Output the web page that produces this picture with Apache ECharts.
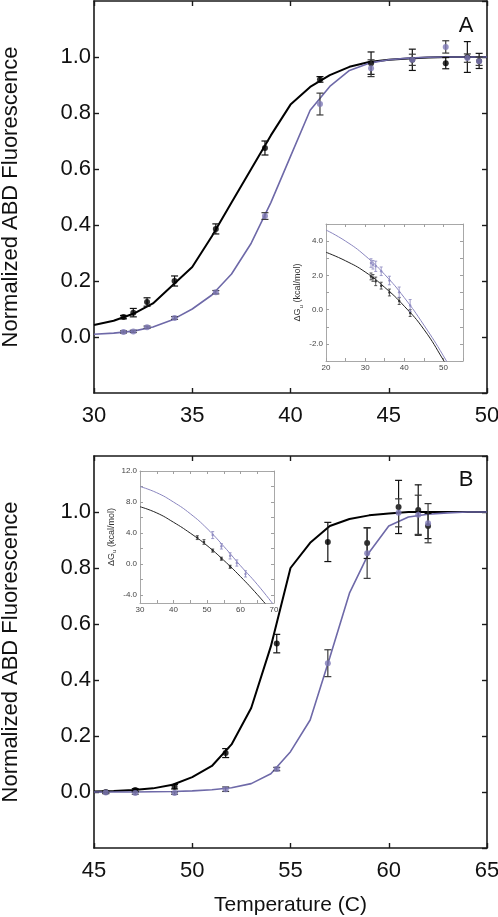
<!DOCTYPE html>
<html><head><meta charset="utf-8">
<script src="https://cdn.jsdelivr.net/npm/echarts@6/dist/echarts.min.js"></script>
<style>html,body{margin:0;padding:0;background:#fff}#c{width:498px;height:917px}</style>
</head><body><div id="c"></div>
<script>
// ---------- Panel A data ----------
const A_T = [31.5, 32.0, 32.7, 34.1, 36.2, 38.7, 41.5, 44.1, 46.2, 47.9, 49.0, 49.6];
const A_black = [0.071, 0.087, 0.125, 0.200, 0.386, 0.675, 0.920, 0.978, 0.990, 0.978, 1.000, 0.986];
const A_blackErr = [0.006, 0.015, 0.015, 0.018, 0.018, 0.025, 0.010, 0.040, 0.038, 0.020, 0.055, 0.027];
const A_purple = [0.018, 0.020, 0.035, 0.068, 0.160, 0.432, 0.832, 0.960, 0.990, 1.036, 0.996, 0.985];
const A_purpleErr = [0.004, 0.004, 0.004, 0.005, 0.006, 0.012, 0.039, 0.030, 0.020, 0.022, 0.015, 0.015];
const A_fitT = [30,31,32,33,34,35,36,37,38,39,40,41,42,43,44,45,46,47,48,49,50];
const A_blackFit = [0.043,0.058,0.083,0.120,0.185,0.250,0.360,0.480,0.600,0.720,0.830,0.893,0.935,0.965,0.982,0.990,0.995,0.998,1.0,1.0,1.0];
const A_purpleFit = [0.010,0.014,0.021,0.036,0.062,0.100,0.150,0.225,0.335,0.480,0.645,0.810,0.895,0.952,0.978,0.990,0.996,0.999,1.0,1.0,1.0];

// ---------- Panel B data ----------
const B_T = [45.6, 47.1, 49.1, 51.7, 54.3, 56.9, 58.9, 60.5, 61.5, 62.0];
const B_black = [0.000, 0.007, 0.019, 0.139, 0.530, 0.893, 0.889, 1.018, 1.007, 0.950];
const B_blackErr = [0.004, 0.005, 0.008, 0.016, 0.033, 0.070, 0.055, 0.095, 0.090, 0.045];
const B_purple = [-0.002, -0.004, -0.004, 0.010, 0.082, 0.460, 0.853, 0.997, 0.990, 0.960];
const B_purpleErr = [0.004, 0.004, 0.004, 0.008, 0.006, 0.048, 0.090, 0.050, 0.070, 0.070];
const B_fitT = [45,46,47,48,49,50,51,52,53,54,55,56,57,58,59,60,61,62,63,64,65];
const B_blackFit = [0.002,0.004,0.007,0.013,0.026,0.053,0.093,0.170,0.300,0.520,0.800,0.890,0.950,0.975,0.988,0.995,1.0,1.0,1.0,1.0,1.0];
const B_purpleFit = [0.0,0.0,0.0,0.001,0.002,0.004,0.008,0.015,0.030,0.065,0.144,0.257,0.480,0.710,0.855,0.950,0.982,0.992,0.997,1.0,1.0];

// ---------- Inset A (ΔGu) ----------
const IA_T = [31.5, 32.0, 32.7, 34.1, 36.2, 38.7, 41.5];
const IA_black = [1.94, 1.85, 1.65, 1.40, 1.00, 0.50, -0.20];
const IA_blackErr = [0.20, 0.20, 0.25, 0.20, 0.20, 0.20, 0.20];
const IA_purple = [2.72, 2.62, 2.53, 2.24, 1.70, 1.02, 0.24];
const IA_purpleErr = [0.25, 0.25, 0.30, 0.25, 0.25, 0.30, 0.35];
const IA_fitT = [20, 25, 30, 35, 40, 45, 50, 55];
const IA_blackFit = [3.35, 2.85, 2.20, 1.30, 0.20, -1.15, -2.95, -4.90];
const IA_purpleFit = [4.65, 4.00, 3.15, 2.05, 0.70, -0.90, -2.70, -4.70];

// ---------- Inset B (ΔGu) ----------
const IB_blackT = [47.1, 49.1, 51.7, 54.3, 56.9];
const IB_black = [3.42, 2.86, 1.75, 0.70, -0.34];
const IB_blackErr = [0.25, 0.30, 0.20, 0.20, 0.20];
const IB_purpleT = [51.7, 54.3, 56.9, 58.9, 61.5];
const IB_purple = [3.75, 2.30, 1.07, 0.15, -1.25];
const IB_purpleErr = [0.45, 0.35, 0.40, 0.40, 0.40];
const IB_fitT = [30, 35, 40, 45, 50, 55, 60, 65, 70];
const IB_blackFit = [7.4, 6.6, 5.4, 4.0, 2.4, 0.5, -1.6, -3.9, -6.4];
const IB_purpleFit = [10.0, 9.2, 8.0, 6.5, 4.6, 2.3, -0.2, -2.6, -5.3];

const IB_yLabels = [-4, 0, 4, 8, 12];
const IB_yTicks = [-4, -2, 0, 2, 4, 6, 8, 10, 12];

// ---------- helpers ----------
const FONT = '"Liberation Sans", Arial, Helvetica, sans-serif';
const BLACK = '#000000';
const PURPLE_LINE = '#6e69a8';
const PURPLE_PT = '#7e79b6';
const zip2 = (a, b) => a.map((v, i) => [v, b[i]]);
const zip3 = (a, b, c) => a.map((v, i) => [v, b[i], c[i]]);
const fmt1 = v => (Math.abs(v) < 1e-9 ? '0.0' : v.toFixed(1));

function errRender(cap, color, width) {
  return function (params, api) {
    const x = api.value(0), y = api.value(1), e = api.value(2);
    const hi = api.coord([x, y + e]), lo = api.coord([x, y - e]);
    const st = { stroke: color, lineWidth: width };
    return { type: 'group', children: [
      { type: 'line', shape: { x1: hi[0], y1: hi[1], x2: lo[0], y2: lo[1] }, style: st },
      { type: 'line', shape: { x1: hi[0] - cap, y1: hi[1], x2: hi[0] + cap, y2: hi[1] }, style: st },
      { type: 'line', shape: { x1: lo[0] - cap, y1: lo[1], x2: lo[0] + cap, y2: lo[1] }, style: st }
    ]};
  };
}

const mainLine = { show: true, onZero: false, lineStyle: { color: '#1a1a1a', width: 1.6 } };
const mainTick = { show: true, inside: true, length: 5, lineStyle: { color: '#1a1a1a', width: 1.4 } };
const insLine = { show: true, onZero: false, lineStyle: { color: '#a8a8a8', width: 1 } };
const insTick = { show: true, inside: true, length: 3, lineStyle: { color: '#a0a0a0', width: 1 } };
const mainLbl = { fontSize: 22, color: '#111', fontFamily: FONT };
const insLbl = { fontSize: 8, color: '#444', fontFamily: FONT, margin: 3 };
const noSplit = { show: false };

function mainX(gi, min, max, name) {
  const base = { type: 'value', gridIndex: gi, min: min, max: max, interval: 5,
    axisLine: mainLine, axisTick: mainTick, splitLine: noSplit };
  const bottom = Object.assign({}, base, { position: 'bottom',
    axisLabel: Object.assign({ margin: 12 }, mainLbl) });
  if (name) {
    bottom.name = name; bottom.nameLocation = 'middle'; bottom.nameGap = 47;
    bottom.nameTextStyle = { fontSize: 21, color: '#111', fontFamily: FONT };
  }
  const top = Object.assign({}, base, { position: 'top', axisLabel: { show: false } });
  return [bottom, top];
}
function mainY(gi) {
  const base = { type: 'value', gridIndex: gi, min: -0.2, max: 1.2, interval: 0.2,
    axisLine: mainLine, axisTick: mainTick, splitLine: noSplit };
  const left = Object.assign({}, base, { position: 'left',
    axisLabel: Object.assign({ margin: 3, showMinLabel: false, showMaxLabel: false, formatter: fmt1 }, mainLbl),
    name: 'Normalized ABD Fluorescence', nameLocation: 'middle', nameRotate: 90, nameGap: 72,
    nameTextStyle: { fontSize: 22, color: '#111', fontFamily: FONT } });
  const right = Object.assign({}, base, { position: 'right', axisLabel: { show: false } });
  return [left, right];
}
const dgName = '{a|ΔG}{s|u}{a| (kcal/mol)}';
const dgStyle = { fontFamily: FONT, rich: {
  a: { fontSize: 9, color: '#333', lineHeight: 12, fontFamily: FONT },
  s: { fontSize: 6, color: '#333', lineHeight: 12, verticalAlign: 'bottom', fontFamily: FONT } } };

function insX(gi, min, max) {
  const base = { type: 'value', gridIndex: gi, min: min, max: max, interval: 5, z: 8,
    axisLine: insLine, axisTick: insTick, splitLine: noSplit };
  return [
    Object.assign({}, base, { position: 'bottom',
      axisLabel: Object.assign({ formatter: v => (v % 10 === 0 ? String(v) : '') }, insLbl) }),
    Object.assign({}, base, { position: 'top', axisLabel: { show: false } })
  ];
}

const xAxes = [].concat(
  mainX(0, 30, 50, null),
  mainX(1, 45, 65, 'Temperature (C)'),
  insX(2, 20, 55),
  insX(3, 30, 70)
);
const yAxes = [].concat(
  mainY(0), mainY(1),
  [
    { type: 'value', gridIndex: 2, min: -3, max: 5, interval: 1, position: 'left', z: 8,
      axisLine: insLine, axisTick: insTick, splitLine: noSplit,
      axisLabel: Object.assign({ formatter: v => (v % 2 === 0 ? fmt1(v) : '') }, insLbl),
      name: dgName, nameLocation: 'middle', nameRotate: 90, nameGap: 22, nameTextStyle: dgStyle },
    { type: 'value', gridIndex: 2, min: -3, max: 5, interval: 1, position: 'right', z: 8,
      axisLine: insLine, axisTick: insTick, splitLine: noSplit, axisLabel: { show: false } },
    { type: 'value', gridIndex: 3, min: -5, max: 12, position: 'left', z: 8,
      axisLine: insLine, axisTick: Object.assign({ customValues: IB_yTicks }, insTick), splitLine: noSplit,
      axisLabel: Object.assign({ customValues: IB_yLabels, formatter: fmt1 }, insLbl),
      name: dgName, nameLocation: 'middle', nameRotate: 90, nameGap: 20, nameTextStyle: dgStyle },
    { type: 'value', gridIndex: 3, min: -5, max: 12, position: 'right', z: 8,
      axisLine: insLine, axisTick: Object.assign({ customValues: IB_yTicks }, insTick), splitLine: noSplit,
      axisLabel: { show: false } }
  ]);

function panelSeries(xi, yi, fitT, blackFit, purpleFit, T, blk, blkErr, pur, purErr, opt) {
  const z = opt.z;
  return [
    { type: 'line', xAxisIndex: xi, yAxisIndex: yi, data: zip2(fitT, blackFit), showSymbol: false,
      smooth: opt.smooth, lineStyle: { color: opt.blackLine, width: opt.bw }, silent: true, z: z },
    { type: 'line', xAxisIndex: xi, yAxisIndex: yi, data: zip2(fitT, purpleFit), showSymbol: false,
      smooth: opt.smooth, lineStyle: { color: opt.purpleLine, width: opt.pw }, silent: true, z: z },
    { type: 'custom', xAxisIndex: xi, yAxisIndex: yi, data: zip3(T.black, blk, blkErr),
      encode: { x: 0, y: 1 }, renderItem: errRender(opt.cap, opt.blackErrColor, opt.ew), z: z + 1 },
    { type: 'scatter', xAxisIndex: xi, yAxisIndex: yi, data: zip2(T.black, blk), symbol: 'circle',
      symbolSize: opt.bs, itemStyle: { color: opt.blackPt }, z: z + 2 },
    { type: 'custom', xAxisIndex: xi, yAxisIndex: yi, data: zip3(T.purple, pur, purErr),
      encode: { x: 0, y: 1 }, renderItem: errRender(opt.cap, opt.purpleErrColor, opt.ew), z: z + 3 },
    { type: 'scatter', xAxisIndex: xi, yAxisIndex: yi, data: zip2(T.purple, pur), symbol: 'circle',
      symbolSize: opt.ps, itemStyle: { color: opt.purplePt }, z: z + 4 }
  ];
}

const mainOpt = { z: 2, smooth: false, blackLine: BLACK, purpleLine: PURPLE_LINE, bw: 2, pw: 1.6,
  cap: 3.5, ew: 1.2, blackErrColor: '#111', purpleErrColor: '#3a3a3a', bs: 6, ps: 6,
  blackPt: BLACK, purplePt: PURPLE_PT };
const insOpt = { z: 10, smooth: true, blackLine: '#222', purpleLine: '#8a86bf', bw: 1, pw: 1,
  cap: 1.5, ew: 0.8, blackErrColor: '#333', purpleErrColor: '#8a86bf', bs: 2.5, ps: 2.5,
  blackPt: '#222', purplePt: '#8a86bf' };

const series = [].concat(
  panelSeries(0, 0, A_fitT, A_blackFit, A_purpleFit, { black: A_T, purple: A_T },
    A_black, A_blackErr, A_purple, A_purpleErr, mainOpt),
  panelSeries(2, 2, B_fitT, B_blackFit, B_purpleFit, { black: B_T, purple: B_T },
    B_black, B_blackErr, B_purple, B_purpleErr, mainOpt),
  panelSeries(4, 4, IA_fitT, IA_blackFit, IA_purpleFit, { black: IA_T, purple: IA_T },
    IA_black, IA_blackErr, IA_purple, IA_purpleErr, insOpt),
  panelSeries(6, 6, IB_fitT, IB_blackFit, IB_purpleFit, { black: IB_blackT, purple: IB_purpleT },
    IB_black, IB_blackErr, IB_purple, IB_purpleErr, insOpt)
);

const gridBase = { outerBoundsMode: 'none', containLabel: false };
const chart = echarts.init(document.getElementById('c'), null, { renderer: 'canvas' });
chart.setOption({
  backgroundColor: '#ffffff',
  animation: false,
  textStyle: { fontFamily: FONT },
  grid: [
    Object.assign({ left: 94, top: 1, width: 393, height: 392 }, gridBase),
    Object.assign({ left: 94, top: 456, width: 393, height: 392 }, gridBase),
    Object.assign({ left: 326, top: 224, width: 137, height: 137, show: true, backgroundColor: '#fff', borderWidth: 0, z: 5 }, gridBase),
    Object.assign({ left: 140, top: 471, width: 134, height: 132, show: true, backgroundColor: '#fff', borderWidth: 0, z: 5 }, gridBase)
  ],
  xAxis: xAxes,
  yAxis: yAxes,
  graphic: [
    { type: 'text', x: 466, y: 26, style: { text: 'A', fontSize: 22, fontFamily: FONT, fill: '#111', align: 'center', verticalAlign: 'middle' } },
    { type: 'text', x: 466, y: 480, style: { text: 'B', fontSize: 22, fontFamily: FONT, fill: '#111', align: 'center', verticalAlign: 'middle' } }
  ],
  series: series
});
</script></body></html>
